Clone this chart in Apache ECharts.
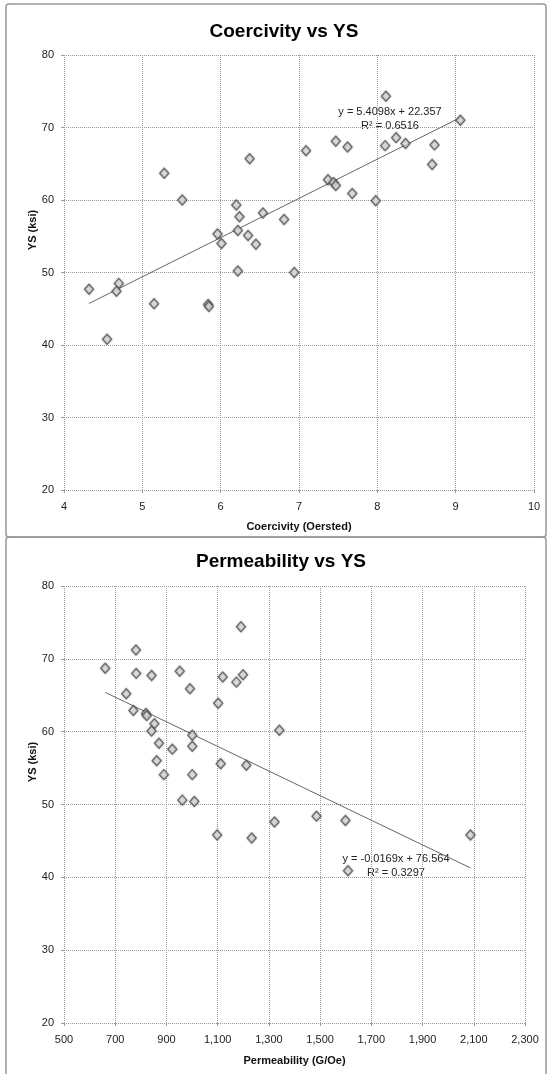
<!DOCTYPE html>
<html>
<head>
<meta charset="utf-8">
<script src="https://cdn.jsdelivr.net/npm/echarts@6/dist/echarts.min.js"></script>
<style>
html,body{margin:0;padding:0;background:#fff;}
#chart{width:548px;height:1074px;}
</style>
</head>
<body>
<div id="chart"></div>
<script>
// Coercivity vs YS
var coercivity = [5.28,5.51,6.37,7.09,6.20,6.24,6.54,6.81,5.96,6.22,6.35,6.01,6.45,
  8.11,9.06,7.47,7.62,8.10,8.24,8.36,8.73,8.70,7.37,7.44,7.47,7.68,7.98,
  4.32,4.70,4.67,4.55,5.15,5.84,5.85,6.22,6.94];
var ysCoercivity = [63.7,60.0,65.7,66.8,59.3,57.7,58.2,57.3,55.3,55.8,55.1,54.0,53.9,
  74.3,71.0,68.1,67.3,67.5,68.6,67.8,67.6,64.9,62.8,62.4,62.0,60.9,59.9,
  47.7,48.5,47.4,40.8,45.7,45.6,45.3,50.2,50.0];
var coerSlope = 5.4098, coerIntercept = 22.357;
var coerEqText = 'y = 5.4098x + 22.357';
var coerR2Text = 'R\u00B2 = 0.6516';

// Permeability vs YS
var permeability = [781,661,782,842,952,992,743,1191,1120,1173,1199,1102,771,820,823,853,842,1341,
  1001,871,923,1001,862,1112,1212,890,1001,962,1009,1233,1322,1486,1599,2087,1609,1098];
var ysPermeability = [71.2,68.7,68.0,67.7,68.3,65.9,65.2,74.4,67.5,66.8,67.8,63.9,62.9,62.5,62.2,61.1,60.1,60.2,
  59.5,58.4,57.6,58.0,56.0,55.6,55.4,54.1,54.1,50.6,50.4,45.4,47.6,48.4,47.8,45.8,40.9,45.8];
var permSlope = -0.0169, permIntercept = 76.564;
var permEqText = 'y = -0.0169x + 76.564';
var permR2Text = 'R\u00B2 = 0.3297';

var permTickLabels = ['500','700','900','1,100','1,300','1,500','1,700','1,900','2,100','2,300'];

function pairs(xs, ys){ return xs.map(function(x,i){ return [x, ys[i]]; }); }
function trend(xs, m, b){
  var mn = Math.min.apply(null, xs), mx = Math.max.apply(null, xs);
  return [[mn, m*mn+b],[mx, m*mx+b]];
}

var FONT = '"Liberation Sans", Arial, sans-serif';
var gridLine = {show:true, lineStyle:{color:'#9a9a9a', type:'dotted', width:1}};
var axisLbl = {color:'#222', fontSize:11, fontFamily:FONT};
var tick = {show:true, length:3, lineStyle:{color:'#999'}};
var markerStyle = {color:'#e4e4e4', borderColor:'#555', borderWidth:1.3, shadowColor:'rgba(0,0,0,0.35)', shadowBlur:2};

var chart = echarts.init(document.getElementById('chart'), null, {renderer:'canvas'});
chart.setOption({
  animation:false,
  backgroundColor:'#fff',
  title:[
    {text:'Coercivity vs YS', left:279, top:17, textAlign:'center',
     textStyle:{fontSize:19, fontWeight:'bold', color:'#000', fontFamily:FONT}},
    {text:'Permeability vs YS', left:276, top:547, textAlign:'center',
     textStyle:{fontSize:19, fontWeight:'bold', color:'#000', fontFamily:FONT}}
  ],
  grid:[
    {left:64, top:55, width:470, height:435},
    {left:64, top:586, width:461, height:437}
  ],
  xAxis:[
    {gridIndex:0, type:'value', min:4, max:10, interval:1,
     axisLine:{show:false}, axisTick:tick, splitLine:gridLine,
     axisLabel:Object.assign({margin:11}, axisLbl),
     name:'Coercivity (Oersted)', nameLocation:'middle', nameGap:31,
     nameTextStyle:{fontSize:11, fontWeight:'bold', color:'#111', fontFamily:FONT}},
    {gridIndex:1, type:'value', min:500, max:2300, interval:200,
     axisLine:{show:false}, axisTick:tick, splitLine:gridLine,
     axisLabel:Object.assign({margin:11, formatter:function(v){ return permTickLabels[Math.round((v-500)/200)]; }}, axisLbl),
     name:'Permeability (G/Oe)', nameLocation:'middle', nameGap:32,
     nameTextStyle:{fontSize:11, fontWeight:'bold', color:'#111', fontFamily:FONT}}
  ],
  yAxis:[
    {gridIndex:0, type:'value', min:20, max:80, interval:10,
     axisLine:{show:false}, axisTick:tick, splitLine:gridLine,
     axisLabel:Object.assign({margin:10}, axisLbl)},
    {gridIndex:1, type:'value', min:20, max:80, interval:10,
     axisLine:{show:false}, axisTick:tick, splitLine:gridLine,
     axisLabel:Object.assign({margin:10}, axisLbl)}
  ],
  graphic:[
    {type:'rect', shape:{x:6, y:4, width:540, height:533, r:3}, style:{fill:'none', stroke:'#999', lineWidth:1.5}, silent:true},
    {type:'rect', shape:{x:6, y:537, width:540, height:545, r:3}, style:{fill:'none', stroke:'#999', lineWidth:1.5}, silent:true},
    {type:'text', x:33, y:230, rotation:Math.PI/2,
     style:{text:'YS (ksi)', font:'bold 11px "Liberation Sans", Arial', fill:'#111', textAlign:'center', textVerticalAlign:'middle'}},
    {type:'text', x:33, y:762, rotation:Math.PI/2,
     style:{text:'YS (ksi)', font:'bold 11px "Liberation Sans", Arial', fill:'#111', textAlign:'center', textVerticalAlign:'middle'}},
    {type:'text', x:390, y:112, style:{text:coerEqText, font:'11px "Liberation Sans", Arial', fill:'#222', textAlign:'center', textVerticalAlign:'middle'}},
    {type:'text', x:390, y:126, style:{text:coerR2Text, font:'11px "Liberation Sans", Arial', fill:'#222', textAlign:'center', textVerticalAlign:'middle'}},
    {type:'text', x:396, y:859, style:{text:permEqText, font:'11px "Liberation Sans", Arial', fill:'#222', textAlign:'center', textVerticalAlign:'middle'}},
    {type:'text', x:396, y:873, style:{text:permR2Text, font:'11px "Liberation Sans", Arial', fill:'#222', textAlign:'center', textVerticalAlign:'middle'}}
  ],
  series:[
    {type:'line', xAxisIndex:0, yAxisIndex:0, data:trend(coercivity, coerSlope, coerIntercept),
     symbol:'none', silent:true, lineStyle:{color:'#666', width:1}, z:2},
    {type:'scatter', xAxisIndex:0, yAxisIndex:0, data:pairs(coercivity, ysCoercivity),
     symbol:'diamond', symbolSize:[9,10], itemStyle:markerStyle, z:3},
    {type:'line', xAxisIndex:1, yAxisIndex:1, data:trend(permeability, permSlope, permIntercept),
     symbol:'none', silent:true, lineStyle:{color:'#666', width:1}, z:2},
    {type:'scatter', xAxisIndex:1, yAxisIndex:1, data:pairs(permeability, ysPermeability),
     symbol:'diamond', symbolSize:[9,10], itemStyle:markerStyle, z:3}
  ]
});
</script>
</body>
</html>
